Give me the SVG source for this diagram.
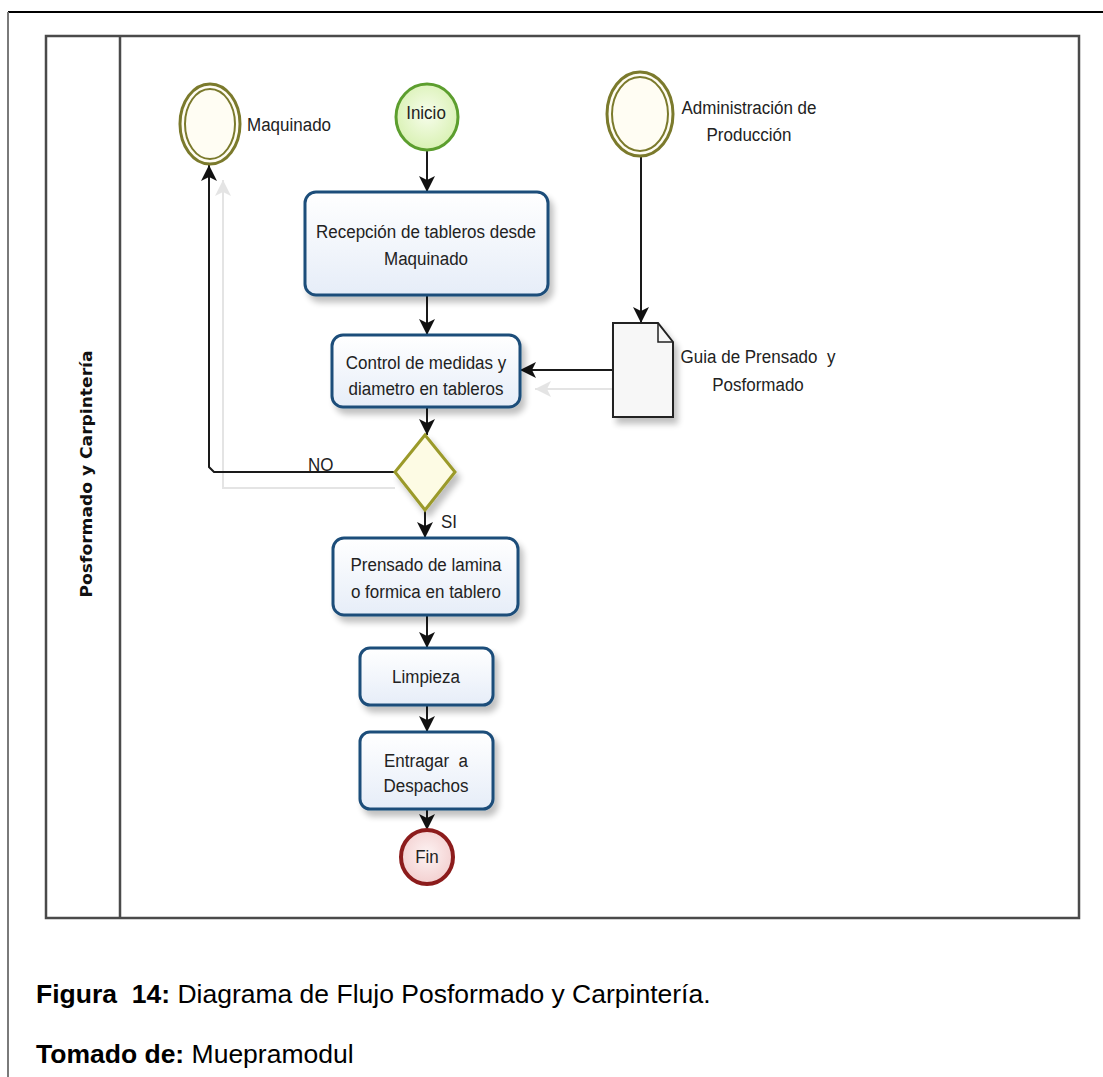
<svg xmlns="http://www.w3.org/2000/svg" width="1103" height="1077" viewBox="0 0 1103 1077">
  <style>
    .lbl { font-family: "Liberation Sans", Arial, sans-serif; font-size: 17px; fill: #222; }
    .mid { text-anchor: middle; }
    .task { fill: url(#taskFill); stroke: #1d4e7a; stroke-width: 3; filter: url(#shadow); }
    .flow { fill: none; stroke: #1a1a1a; stroke-width: 2; }
    .ghost { fill: none; stroke: #e4e4e4; stroke-width: 2; }
    .cap { font-family: "Liberation Sans", Arial, sans-serif; font-size: 26.5px; fill: #000; white-space: pre; }
  </style>
  <defs>
    <linearGradient id="taskFill" x1="0" y1="0" x2="0" y2="1">
      <stop offset="0" stop-color="#ffffff"/>
      <stop offset="1" stop-color="#e6edf8"/>
    </linearGradient>
    <radialGradient id="startFill" cx="0.5" cy="0.45" r="0.6">
      <stop offset="0" stop-color="#f7fdec"/>
      <stop offset="1" stop-color="#d6f0ae"/>
    </radialGradient>
    <radialGradient id="endFill" cx="0.5" cy="0.45" r="0.6">
      <stop offset="0" stop-color="#fdf3f3"/>
      <stop offset="1" stop-color="#f2cccc"/>
    </radialGradient>
    <filter id="shadow" x="-10%" y="-10%" width="130%" height="140%">
      <feGaussianBlur in="SourceAlpha" stdDeviation="3"/>
      <feOffset dx="4" dy="6" result="b"/>
      <feComponentTransfer><feFuncA type="linear" slope="0.25"/></feComponentTransfer>
      <feMerge><feMergeNode/><feMergeNode in="SourceGraphic"/></feMerge>
    </filter>
    <marker id="arrow" markerUnits="userSpaceOnUse" markerWidth="18" markerHeight="18" refX="16" refY="8" orient="auto">
      <path d="M0,0 L16,8 L0,16 L4,8 Z" fill="#111"/>
    </marker>
    <marker id="arrowGhost" markerUnits="userSpaceOnUse" markerWidth="18" markerHeight="18" refX="16" refY="8" orient="auto">
      <path d="M0,0 L16,8 L0,16 L4,8 Z" fill="#e4e4e4"/>
    </marker>
  </defs>

  <rect width="1103" height="1077" fill="#fff"/>

  <!-- page frame -->
  <line x1="8" y1="12" x2="1103" y2="12" stroke="#000" stroke-width="2"/>
  <line x1="8" y1="12" x2="8" y2="1077" stroke="#7a7a7a" stroke-width="2"/>

  <!-- pool and lane -->
  <g id="pool">
    <rect x="46" y="36" width="1033" height="882" fill="none" stroke="#4a4a4a" stroke-width="2.5"/>
    <line x1="120" y1="36" x2="120" y2="918" stroke="#4a4a4a" stroke-width="2.5"/>
    <text transform="translate(92,474) rotate(-90)" text-anchor="middle" font-family="'DejaVu Sans', Verdana, sans-serif" font-weight="bold" font-size="16" textLength="247" lengthAdjust="spacingAndGlyphs" fill="#111">Posformado y Carpintería</text>
  </g>

  <!-- sequence flows -->
  <g id="connectors">
    <path class="ghost" d="M395,488 H223 V180" marker-end="url(#arrowGhost)"/>
    <path class="ghost" d="M613,389 H535" marker-end="url(#arrowGhost)"/>
    <path class="flow" d="M427,150 V192" marker-end="url(#arrow)"/>
    <path class="flow" d="M427,295 V335" marker-end="url(#arrow)"/>
    <path class="flow" d="M427,407 V435" marker-end="url(#arrow)"/>
    <path class="flow" d="M425,510 V538" marker-end="url(#arrow)"/>
    <path class="flow" d="M427,615 V648" marker-end="url(#arrow)"/>
    <path class="flow" d="M427,705 V732" marker-end="url(#arrow)"/>
    <path class="flow" d="M427,809 V830" marker-end="url(#arrow)"/>
    <path class="flow" d="M641,156 V323" marker-end="url(#arrow)"/>
    <path class="flow" d="M613,370 H520" marker-end="url(#arrow)"/>
    <path class="flow" d="M395,472 H214 L209,467 V165" marker-end="url(#arrow)"/>
    <text class="lbl" transform="translate(308,471) scale(1,1.12)">NO</text>
    <text class="lbl" transform="translate(441,528) scale(1,1.12)">SI</text>
  </g>

  <g id="maquinado">
    <ellipse cx="210" cy="124" rx="30" ry="40" fill="#fffdf3" stroke="#7b7a2c" stroke-width="3"/>
    <ellipse cx="210" cy="124" rx="25" ry="35" fill="none" stroke="#7b7a2c" stroke-width="2"/>
    <text class="lbl" transform="translate(247,131) scale(1,1.12)">Maquinado</text>
  </g>

  <g id="inicio">
    <ellipse cx="427" cy="117" rx="31" ry="33" fill="url(#startFill)" stroke="#5c9e2e" stroke-width="3"/>
    <text class="lbl mid" transform="translate(426,119) scale(1,1.12)">Inicio</text>
  </g>

  <g id="administracion">
    <ellipse cx="640" cy="114" rx="33" ry="42" fill="#fffdf3" stroke="#7b7a2c" stroke-width="3"/>
    <ellipse cx="640" cy="114" rx="28" ry="37" fill="none" stroke="#7b7a2c" stroke-width="2"/>
    <text class="lbl mid" transform="translate(749,114) scale(1,1.12)">Administración de</text>
    <text class="lbl mid" transform="translate(749,141) scale(1,1.12)">Producción</text>
  </g>

  <g id="recepcion">
    <rect class="task" x="305" y="192" width="243" height="103" rx="11"/>
    <text class="lbl mid" transform="translate(426,238) scale(1,1.12)">Recepción de tableros desde</text>
    <text class="lbl mid" transform="translate(426,265) scale(1,1.12)">Maquinado</text>
  </g>

  <g id="control">
    <rect class="task" x="332" y="335" width="188" height="72" rx="11"/>
    <text class="lbl mid" transform="translate(426,369) scale(1,1.12)">Control de medidas y</text>
    <text class="lbl mid" transform="translate(426,395) scale(1,1.12)">diametro en tableros</text>
  </g>

  <g id="guia">
    <path d="M613,323 H658 L673,342 V417 H613 Z" fill="#f7f7f7" stroke="#222" stroke-width="2" filter="url(#shadow)"/>
    <path d="M658,323 V342 H673" fill="none" stroke="#222" stroke-width="1.5"/>
    <text class="lbl mid" transform="translate(758,363) scale(1,1.12)" xml:space="preserve">Guia de Prensado  y</text>
    <text class="lbl mid" transform="translate(758,391) scale(1,1.12)">Posformado</text>
  </g>

  <g id="decision">
    <path d="M425,435 L455,472 L425,510 L395,472 Z" fill="#fdfbe4" stroke="#9b9a2a" stroke-width="3" filter="url(#shadow)"/>
  </g>

  <g id="prensado">
    <rect class="task" x="333" y="538" width="185" height="77" rx="11"/>
    <text class="lbl mid" transform="translate(426,571) scale(1,1.12)">Prensado de lamina</text>
    <text class="lbl mid" transform="translate(426,598) scale(1,1.12)">o formica en tablero</text>
  </g>

  <g id="limpieza">
    <rect class="task" x="360" y="648" width="133" height="57" rx="10"/>
    <text class="lbl mid" transform="translate(426,683) scale(1,1.12)">Limpieza</text>
  </g>

  <g id="entregar">
    <rect class="task" x="360" y="732" width="133" height="77" rx="10"/>
    <text class="lbl mid" transform="translate(426,767) scale(1,1.12)" xml:space="preserve">Entragar  a</text>
    <text class="lbl mid" transform="translate(426,792) scale(1,1.12)">Despachos</text>
  </g>

  <g id="fin">
    <ellipse cx="427" cy="857" rx="26" ry="27" fill="url(#endFill)" stroke="#8c1c1c" stroke-width="4"/>
    <text class="lbl mid" transform="translate(427,863) scale(1,1.12)">Fin</text>
  </g>

  <!-- caption -->
  <text class="cap" x="36" y="1003"><tspan font-weight="bold">Figura  14:</tspan> Diagrama de Flujo Posformado y Carpintería.</text>
  <text class="cap" x="36" y="1063"><tspan font-weight="bold">Tomado de:</tspan> Muepramodul</text>
</svg>
